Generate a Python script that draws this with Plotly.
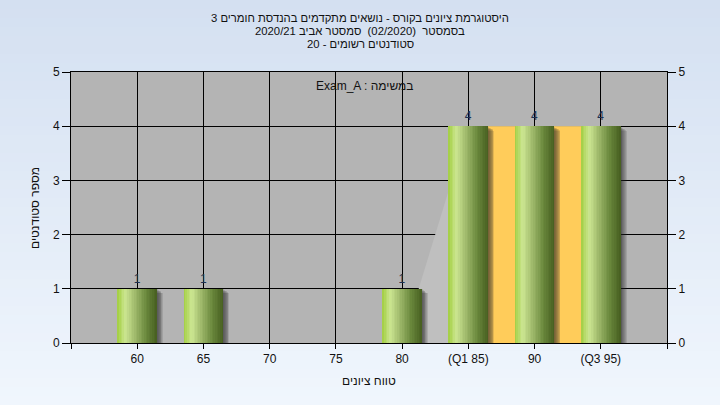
import plotly.graph_objects as go

# ---------------- data ----------------
categories = ["60", "65", "70", "75", "80", "(Q1 85)", "90", "(Q3 95)"]
counts = [1, 1, 0, 0, 1, 4, 4, 4]
area_categories = ["80", "(Q1 85)", "90", "(Q3 95)"]
area_values = [0, 4, 4, 4]
quartile_categories = ["(Q1 85)", "90", "(Q3 95)"]
quartile_values = [4, 4, 4]
y_ticks = [0, 1, 2, 3, 4, 5]

title_lines = [
    "היסטוגרמת ציונים בקורס - נושאים מתקדמים בהנדסת חומרים 3",
    "בסמסטר  (02/2020)  סמסטר אביב 2020/21",
    "סטודנטים רשומים - 20",
]
subtitle = "Exam_A : במשימה"
x_title = "טווח ציונים"
y_title = "מספר סטודנטים"

# ---------------- layout geometry ----------------
W, H = 720, 405
L, R, T, B = 71, 667, 72, 343
FONT = "Liberation Sans, Arial, sans-serif"


def py(p):
    return (B - p) / (B - T)


def px(p):
    return (p - L) / (R - L)


xpos = list(range(len(categories)))
idx = {c: i for i, c in enumerate(categories)}
bar_w = 0.6
xr = [-1, len(categories)]

fig = go.Figure()

# background area (distribution) and quartile band -- main axes (below bars)
fig.add_trace(go.Scatter(
    x=[idx[c] for c in area_categories], y=area_values, mode="lines",
    line=dict(width=0, color="#c0c0c0"), fill="tozeroy", fillcolor="#bfbfbf",
    hoverinfo="skip", showlegend=False, xaxis="x", yaxis="y"))
fig.add_trace(go.Scatter(
    x=[idx[c] for c in quartile_categories], y=quartile_values, mode="lines",
    line=dict(width=0, color="#ffcc5a"), fill="tozeroy", fillcolor="#ffcc5a",
    hoverinfo="skip", showlegend=False, xaxis="x", yaxis="y"))

# soft shadows (overlay axes, drawn above areas)
for k in range(7, 0, -1):
    dx = 0.013 * k
    dy = 0.012 * k
    fig.add_trace(go.Bar(
        x=xpos, y=[c - dy if c > 0 else None for c in counts],
        offset=-bar_w / 2 + dx, width=bar_w,
        marker=dict(color="rgba(35,35,35,0.13)", line=dict(width=0)),
        hoverinfo="skip", showlegend=False, xaxis="x2", yaxis="y2"))

# gradient bar slices (cylinder look)
stops = [(0.0, (162, 206, 64)), (0.2, (204, 230, 146)), (0.45, (158, 184, 106)),
         (0.72, (106, 136, 60)), (1.0, (70, 94, 32))]


def col_at(t):
    for (t0, c0), (t1, c1) in zip(stops[:-1], stops[1:]):
        if t0 <= t <= t1:
            f = (t - t0) / (t1 - t0)
            return "rgb(%d,%d,%d)" % tuple(round(a + (b - a) * f) for a, b in zip(c0, c1))
    return "rgb(%d,%d,%d)" % stops[-1][1]


N = 24
sw = bar_w / N
for i in range(N):
    w = sw * 1.25 if i < N - 1 else sw
    fig.add_trace(go.Bar(
        x=xpos, y=[c if c > 0 else None for c in counts],
        offset=-bar_w / 2 + i * sw, width=w,
        marker=dict(color=col_at((i + 0.5) / N), line=dict(width=0)),
        hoverinfo="skip", showlegend=False, xaxis="x2", yaxis="y2"))

# value labels
fig.add_trace(go.Bar(
    x=xpos, y=counts, width=bar_w, marker=dict(color="rgba(0,0,0,0)", line=dict(width=0)),
    text=[str(c) if c > 0 else "" for c in counts], textposition="outside",
    textfont=dict(family=FONT, size=12, color="#1d3050"), cliponaxis=False,
    hoverinfo="skip", showlegend=False, xaxis="x2", yaxis="y2"))

# background gradient + plot area background
shapes = []
nb = 45
top_c, bot_c = (212, 224, 241), (240, 246, 253)
for i in range(nb):
    f = i / (nb - 1)
    c = tuple(round(a + (b - a) * f) for a, b in zip(top_c, bot_c))
    y0 = i * H / nb
    y1 = (i + 1) * H / nb + 1
    shapes.append(dict(type="rect", xref="paper", yref="paper", layer="below",
                       x0=px(-2), x1=px(W + 2), y0=py(y1), y1=py(y0),
                       line=dict(width=0), fillcolor="rgb(%d,%d,%d)" % c))
shapes.append(dict(type="rect", xref="paper", yref="paper", layer="below",
                   x0=0, x1=1, y0=0, y1=1, line=dict(width=0), fillcolor="#b4b4b4"))

annotations = []
for k, line in enumerate(title_lines):
    annotations.append(dict(text=line, xref="paper", yref="paper", x=px(360), y=py(18 + 13 * k),
                            xanchor="center", yanchor="middle", showarrow=False,
                            font=dict(family=FONT, size=11.3, color="#111")))
annotations.append(dict(text=subtitle, xref="paper", yref="paper", x=px(365), y=py(86),
                        xanchor="center", yanchor="middle", showarrow=False,
                        font=dict(family=FONT, size=12, color="#111")))
annotations.append(dict(text=x_title, xref="paper", yref="paper", x=px(369), y=py(381),
                        xanchor="center", yanchor="middle", showarrow=False,
                        font=dict(family=FONT, size=12, color="#111")))
annotations.append(dict(text=y_title, xref="paper", yref="paper", x=px(35), y=py(208),
                        xanchor="center", yanchor="middle", showarrow=False, textangle=-90,
                        font=dict(family=FONT, size=12, color="#111")))

tickfont = dict(family=FONT, size=12, color="#111")
fig.update_layout(
    width=W, height=H,
    margin=dict(l=L, r=W - R, t=T, b=H - B, pad=0),
    paper_bgcolor="#e2ebf7", plot_bgcolor="rgba(0,0,0,0)",
    barmode="overlay", bargap=0,
    showlegend=False,
    shapes=shapes, annotations=annotations,
    font=dict(family=FONT, size=12, color="#111"),
    xaxis=dict(range=xr, tickmode="array",
               tickvals=[xr[0]] + xpos + [xr[1]],
               ticktext=[""] + categories + [""],
               showgrid=True, gridcolor="black", gridwidth=1,
               ticks="outside", ticklen=5, tickcolor="black",
               showline=True, linecolor="black", mirror=True, zeroline=False,
               tickfont=tickfont),
    yaxis=dict(range=[0, 5], tickmode="array", tickvals=y_ticks,
               showgrid=True, gridcolor="black", gridwidth=1,
               ticks="outside", ticklen=8, tickcolor="black",
               showline=True, linecolor="black", zeroline=False,
               tickfont=tickfont),
    xaxis2=dict(range=xr, overlaying="x", anchor="y2", visible=False,
                showgrid=False, zeroline=False),
    yaxis2=dict(range=[0, 5], tickmode="array", tickvals=y_ticks, overlaying="y",
                side="right", anchor="x2", showgrid=False,
                ticks="outside", ticklen=8, tickcolor="black",
                showline=True, linecolor="black", zeroline=False,
                tickfont=tickfont),
)

fig.write_html("out.html", config={"displayModeBar": False, "staticPlot": True},
               post_script="document.body.style.margin='0';document.body.style.overflow='hidden';")
